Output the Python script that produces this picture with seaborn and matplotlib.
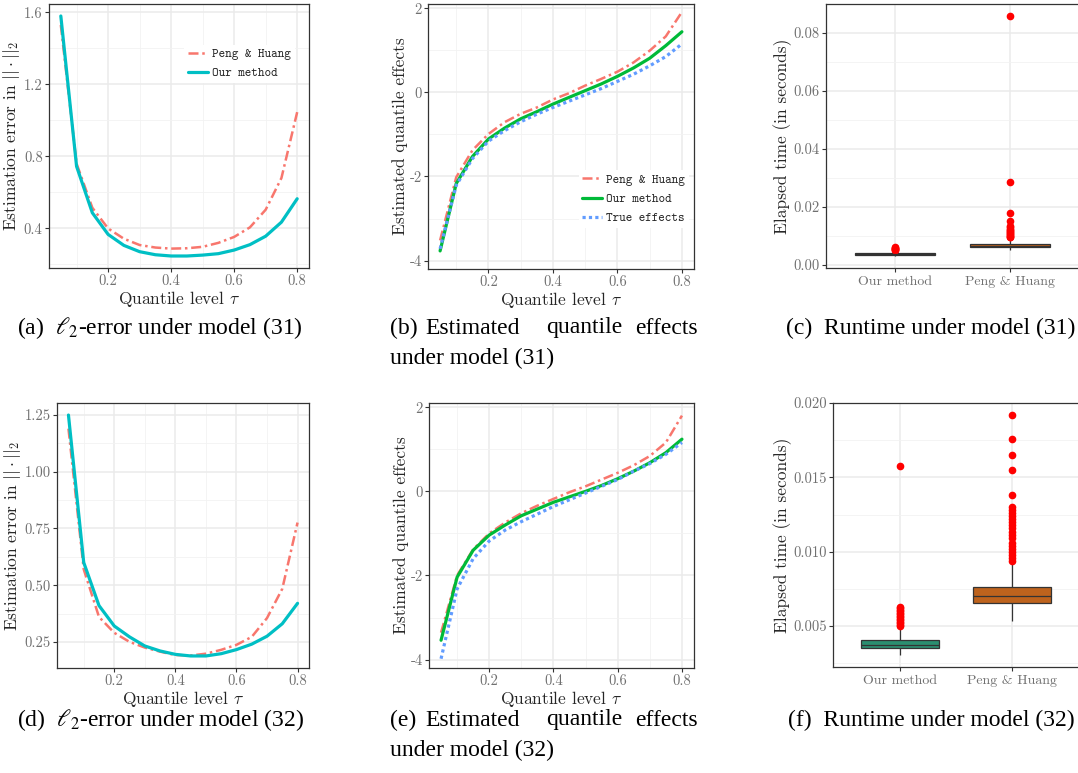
# -*- coding: utf-8 -*-
# %% Library imports

import numpy as np
import pandas as pd
import seaborn as sns
import matplotlib.pyplot as plt
from matplotlib.ticker import MultipleLocator, FuncFormatter

# %% Data

tau = [0.05, 0.10, 0.15, 0.20, 0.25, 0.30, 0.35, 0.40,
       0.45, 0.50, 0.55, 0.60, 0.65, 0.70, 0.75, 0.80]

# l2-error, model (31)
err31_peng = [1.53, 0.76, 0.515, 0.40, 0.343, 0.308, 0.294, 0.288,
              0.290, 0.298, 0.320, 0.353, 0.406, 0.504, 0.680, 1.046]
err31_ours = [1.58, 0.745, 0.487, 0.367, 0.306, 0.271, 0.254, 0.247,
              0.247, 0.252, 0.260, 0.280, 0.310, 0.357, 0.435, 0.565]

# l2-error, model (32)
err32_peng = [1.19, 0.57, 0.36, 0.29, 0.25, 0.225, 0.207, 0.192,
              0.190, 0.198, 0.215, 0.237, 0.272, 0.355, 0.484, 0.776]
err32_ours = [1.25, 0.60, 0.41, 0.32, 0.272, 0.232, 0.210, 0.195,
              0.188, 0.188, 0.198, 0.216, 0.240, 0.275, 0.330, 0.420]

# quantile effects, model (31)
eff31_peng = [-3.52, -2.02, -1.38, -0.99, -0.71, -0.51, -0.36, -0.17,
              -0.02, 0.16, 0.32, 0.49, 0.71, 0.99, 1.33, 1.91]
eff31_ours = [-3.77, -2.17, -1.53, -1.11, -0.85, -0.63, -0.46, -0.28,
              -0.12, 0.04, 0.20, 0.38, 0.58, 0.81, 1.11, 1.44]
eff31_true = [-3.72, -2.21, -1.58, -1.16, -0.91, -0.70, -0.52, -0.36,
              -0.21, -0.06, 0.09, 0.26, 0.43, 0.63, 0.85, 1.15]

# quantile effects, model (32)
eff32_peng = [-3.36, -2.00, -1.38, -1.00, -0.74, -0.52, -0.34, -0.18,
              -0.02, 0.12, 0.28, 0.44, 0.62, 0.84, 1.16, 1.80]
eff32_ours = [-3.54, -2.04, -1.40, -1.04, -0.80, -0.58, -0.42, -0.26,
              -0.13, 0.00, 0.14, 0.30, 0.48, 0.68, 0.92, 1.24]
eff32_true = [-3.98, -2.32, -1.60, -1.18, -0.92, -0.72, -0.54, -0.36,
              -0.20, -0.04, 0.12, 0.28, 0.48, 0.66, 0.88, 1.16]

# runtime: five-number summary (whisker low, Q1, median, Q3, whisker high)
# plus the outliers that show up as red dots
methods = ["Our method", "Peng & Huang"]
rt31_ours_box = [0.0031, 0.0035, 0.0037, 0.0040, 0.0047]
rt31_ours_out = [0.0050, 0.0052, 0.0054, 0.0056, 0.0058, 0.0060, 0.0062]
rt31_peng_box = [0.0051, 0.0061, 0.0067, 0.0073, 0.0088]
rt31_peng_out = [0.0095, 0.0098, 0.0101, 0.0104, 0.0107, 0.0110, 0.0113,
                 0.0116, 0.0120, 0.0125, 0.0130, 0.0135, 0.0150, 0.0178,
                 0.0285, 0.0857]
rt32_ours_box = [0.00305, 0.0035, 0.00374, 0.00408, 0.0049]
rt32_ours_out = [0.0050, 0.0051, 0.0052, 0.0053, 0.0054, 0.0055, 0.0056,
                 0.0057, 0.0058, 0.0059, 0.0060, 0.0061, 0.0062, 0.0063,
                 0.0158]
rt32_peng_box = [0.00534, 0.00653, 0.00702, 0.00765, 0.0092]
rt32_peng_out = [0.0094, 0.0096, 0.0098, 0.0100, 0.0102, 0.0104, 0.0106,
                 0.0109, 0.0111, 0.0113, 0.0116, 0.0118, 0.0120, 0.0122,
                 0.0124, 0.0126, 0.0128, 0.0130, 0.0138, 0.0155, 0.0165,
                 0.0176, 0.0192]

# %% Colours / fonts

col_peng = "#F8766D"
col_cyan = "#00BFC4"
col_green = "#00BA38"
col_blue = "#619CFF"
box_cols = ["#1B9E77", "#D95F02"]

sns.set_theme(style="white")
plt.rcParams['font.family'] = ['cmr10', 'DejaVu Serif']
plt.rcParams['mathtext.fontset'] = 'cm'
plt.rcParams['axes.unicode_minus'] = False

W, H = 1078, 773
fig = plt.figure(figsize=(W / 100, H / 100), dpi=100)


def px_axes(l, r, t, b):
    return fig.add_axes([l / W, 1 - b / H, (r - l) / W, (b - t) / H])


def style(ax, xminor=True):
    ax.set_facecolor("white")
    ax.set_axisbelow(True)
    ax.grid(which="major", color="#EBEBEB", lw=1.1)
    ax.grid(which="minor", color="#F2F2F2", lw=0.6)
    if not xminor:
        ax.grid(which="minor", axis="x", visible=False)
    for s in ax.spines.values():
        s.set_color("#333333")
        s.set_linewidth(0.9)
    ax.tick_params(which="major", length=3, width=0.8, color="#333333",
                   labelcolor="#707070", labelsize=10.5, pad=1.5,
                   bottom=True, left=True)
    ax.tick_params(which="minor", length=0)


def box_sample(box, out):
    # rebuild a sample whose quartiles/whiskers are exactly the read values
    lo, q1, med, q3, hi = box
    k = len(out) + 1
    return [lo] + [q1] * k + [med] * k + [q3] * k + [hi] + list(out)


fmt = lambda f: FuncFormatter(lambda v, p: f.format(v))
leg_font = {"family": "cmtt10", "size": 9}


def tau_axis(ax):
    ax.set_xlim(0.0125, 0.8375)
    ax.xaxis.set_major_locator(MultipleLocator(0.2))
    ax.xaxis.set_minor_locator(MultipleLocator(0.1))
    ax.xaxis.set_major_formatter(fmt("{:.1f}"))
    ax.set_xlabel(r"Quantile level $\tau$", fontsize=12.5, labelpad=0.5)


def err_panel(ax, peng, ours, legend):
    sns.lineplot(x=tau, y=peng, ax=ax, color=col_peng, lw=1.8,
                 linestyle=(0, (4, 1.5, 1, 1.5)), label="Peng & Huang",
                 legend=legend)
    sns.lineplot(x=tau, y=ours, ax=ax, color=col_cyan, lw=2.3,
                 label="Our method", legend=legend)
    tau_axis(ax)
    ax.set_ylabel(r"Estimation error in $||\cdot||_2$", fontsize=12.5,
                  labelpad=1)
    lo = min(min(peng), min(ours))
    hi = max(max(peng), max(ours))
    ax.set_ylim(lo - 0.05 * (hi - lo), hi + 0.05 * (hi - lo))
    style(ax)


def eff_panel(ax, peng, ours, true, legend):
    sns.lineplot(x=tau, y=peng, ax=ax, color=col_peng, lw=1.8,
                 linestyle=(0, (4, 1.5, 1, 1.5)), label="Peng & Huang",
                 legend=legend)
    sns.lineplot(x=tau, y=ours, ax=ax, color=col_green, lw=2.3,
                 label="Our method", legend=legend)
    sns.lineplot(x=tau, y=true, ax=ax, color=col_blue, lw=2.3,
                 linestyle=(0, (1, 1)), label="True effects",
                 legend=legend)
    tau_axis(ax)
    ax.set_ylabel("Estimated quantile effects", fontsize=12.5, labelpad=1)
    ax.set_ylim(-4.2, 2.1)
    ax.yaxis.set_major_locator(MultipleLocator(2))
    ax.yaxis.set_minor_locator(MultipleLocator(1))
    ax.yaxis.set_major_formatter(fmt("{:.0f}"))
    style(ax)


def rt_panel(ax, ours_box, ours_out, peng_box, peng_out):
    a = box_sample(ours_box, ours_out)
    b = box_sample(peng_box, peng_out)
    df = pd.DataFrame({"method": [methods[0]] * len(a) + [methods[1]] * len(b),
                       "time": a + b})
    sns.boxplot(data=df, x="method", y="time", hue="method", order=methods,
                hue_order=methods, palette=box_cols, width=0.7, ax=ax,
                legend=False, linecolor="#333333", linewidth=0.9,
                showcaps=False,
                flierprops=dict(marker="o", markerfacecolor="red",
                                markeredgecolor="red", markersize=4.5))
    ax.set_xlim(-0.6, 1.6)
    ax.set_xlabel("")
    ax.set_ylabel("Elapsed time (in seconds)", fontsize=12.5, labelpad=1)
    allv = a + b
    lo, hi = min(allv), max(allv)
    ax.set_ylim(lo - 0.05 * (hi - lo), hi + 0.05 * (hi - lo))
    style(ax, xminor=False)
    ax.tick_params(axis="x", labelsize=10, pad=3)


# %% Panels

leg_kw = dict(loc="upper left", prop=leg_font, frameon=True,
              facecolor="white", edgecolor="none", framealpha=1,
              borderpad=0.3, handlelength=1.6, handletextpad=0.3,
              labelspacing=0.6)

ax_a = px_axes(49, 309, 4, 268)
err_panel(ax_a, err31_peng, err31_ours, True)
ax_a.yaxis.set_major_locator(MultipleLocator(0.4))
ax_a.yaxis.set_minor_locator(MultipleLocator(0.2))
ax_a.yaxis.set_major_formatter(fmt("{:.1f}"))
ax_a.legend(bbox_to_anchor=(0.497, 0.87), **leg_kw)

ax_b = px_axes(428, 694, 4, 269)
eff_panel(ax_b, eff31_peng, eff31_ours, eff31_true, True)
ax_b.legend(bbox_to_anchor=(0.543, 0.396), **leg_kw)

ax_c = px_axes(826, 1079, 4, 268)
rt_panel(ax_c, rt31_ours_box, rt31_ours_out, rt31_peng_box, rt31_peng_out)
ax_c.yaxis.set_major_locator(MultipleLocator(0.02))
ax_c.yaxis.set_minor_locator(MultipleLocator(0.01))
ax_c.yaxis.set_major_formatter(fmt("{:.2f}"))

ax_d = px_axes(57, 309, 403, 668)
err_panel(ax_d, err32_peng, err32_ours, False)
ax_d.yaxis.set_major_locator(MultipleLocator(0.25))
ax_d.yaxis.set_minor_locator(MultipleLocator(0.125))
ax_d.yaxis.set_major_formatter(fmt("{:.2f}"))

ax_e = px_axes(429, 694, 403, 668)
eff_panel(ax_e, eff32_peng, eff32_ours, eff32_true, False)

ax_f = px_axes(833, 1079, 403, 667)
rt_panel(ax_f, rt32_ours_box, rt32_ours_out, rt32_peng_box, rt32_peng_out)
ax_f.yaxis.set_major_locator(MultipleLocator(0.005))
ax_f.yaxis.set_minor_locator(MultipleLocator(0.0025))
ax_f.yaxis.set_major_formatter(fmt("{:.3f}"))

# %% Sub-captions

cap = dict(family="Liberation Serif", size=17, color="black",
           math_fontfamily="stix", va="center")


def fx(x):
    return x / W


def fy(y):
    return 1 - y / H


for y, m in [(328, "31"), (720, "32")]:
    a, c = ("a", "c") if m == "31" else ("d", "f")
    b = "b" if m == "31" else "e"
    fig.text(fx(17), fy(y), "(%s)  $\\ell_2$-error under model (%s)" % (a, m),
             ha="left", **cap)
    fig.text(fx(1075), fy(y), "(%s)  Runtime under model (%s)" % (c, m),
             ha="right", **cap)
    fig.text(fx(390), fy(y), "(%s)" % b, ha="left", **cap)
    fig.text(fx(425), fy(y), "Estimated", ha="left", **cap)
    fig.text(fx(546), fy(y), "quantile", ha="left", **cap)
    fig.text(fx(698), fy(y), "effects", ha="right", **cap)
    fig.text(fx(390), fy(y + 30), "under model (%s)" % m, ha="left", **cap)

plt.savefig("out.png", dpi=100)
